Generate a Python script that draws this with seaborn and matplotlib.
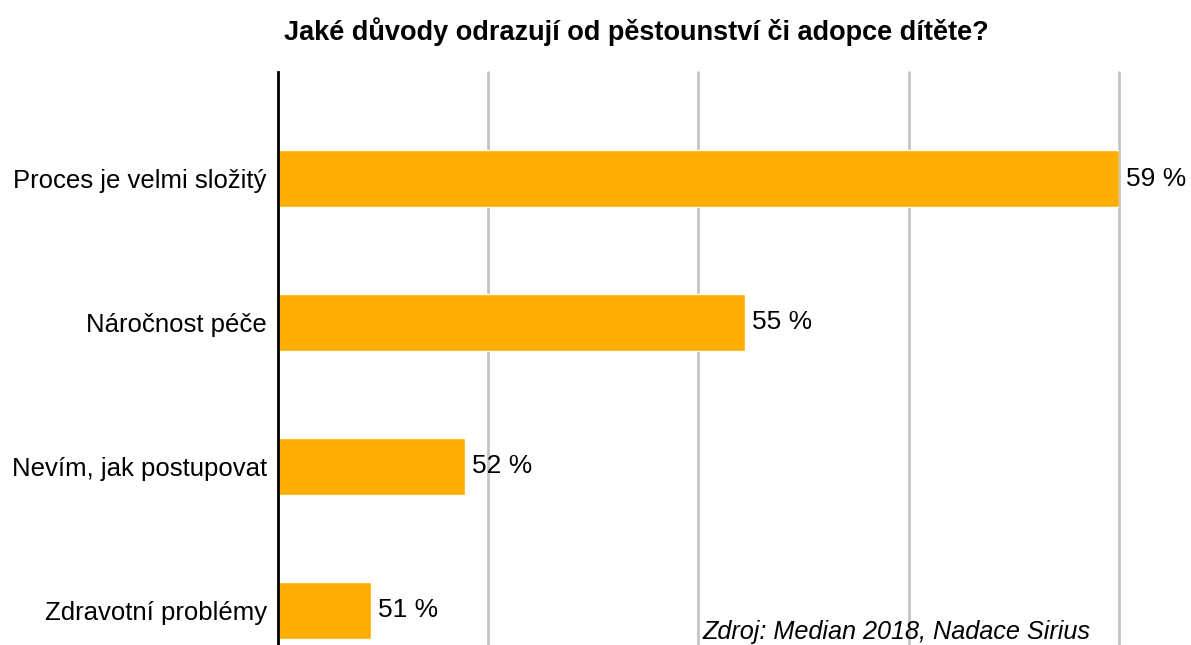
"""
Bar chart: reasons that discourage from foster care or adoption
"""

import matplotlib
matplotlib.use("Agg")
import matplotlib.pyplot as plt
import seaborn as sns
import pandas as pd

# data
reasons = [
    "Proces je velmi složitý",
    "Náročnost péče",
    "Nevím, jak postupovat",
    "Zdravotní problémy",
]
shares = [59, 55, 52, 51]
value_labels = ["59 %", "55 %", "52 %", "51 %"]

title = "Jaké důvody odrazují od pěstounství či adopce dítěte?"
source = "Zdroj: Median 2018, Nadace Sirius"

BAR_COLOR = "#FFAD00"

sns.set_theme(style="white")
plt.rcParams["font.family"] = ["Liberation Sans", "DejaVu Sans"]

df = pd.DataFrame({"reason": reasons, "share": shares})

fig = plt.figure(figsize=(11.91, 6.45), dpi=100)
ax = fig.add_axes([0.2334, 0.0, 0.7061, 0.8884])

sns.barplot(data=df, x="share", y="reason", color=BAR_COLOR, width=0.4,
            saturation=1, ax=ax, zorder=3)

ax.set_xlim(50, 59)
ax.set_ylim(3.24, -0.74)
ax.set_xticks([50, 52.25, 54.5, 56.75, 59])
ax.set_xticklabels([])
ax.tick_params(axis="x", length=0)
ax.tick_params(axis="y", length=0, labelsize=18.5, pad=8, colors="black")
ax.set_xlabel("")
ax.set_ylabel("")

# vertical grid
ax.grid(axis="x", color="#c4c4c4", linewidth=2, zorder=0)
ax.grid(axis="y", visible=False)
for gl in ax.get_xgridlines():
    gl.set_clip_on(False)

for side in ["top", "right", "bottom"]:
    ax.spines[side].set_visible(False)
ax.spines["left"].set_color("black")
ax.spines["left"].set_linewidth(2)
ax.spines["left"].set_zorder(5)

# value labels
for i, (v, lab) in enumerate(zip(shares, value_labels)):
    ax.annotate(lab, xy=(v, i), xytext=(5, 0), textcoords="offset points",
                va="center", ha="left", fontsize=19, color="black")

fig.text(0.5345, 0.951, title, ha="center", va="center",
         fontsize=19.5, fontweight="bold", color="black")

fig.text(0.9155, 0.02, source, ha="right", va="center",
         fontsize=18.2, style="italic", color="black")

fig.savefig("out.png", dpi=100)
